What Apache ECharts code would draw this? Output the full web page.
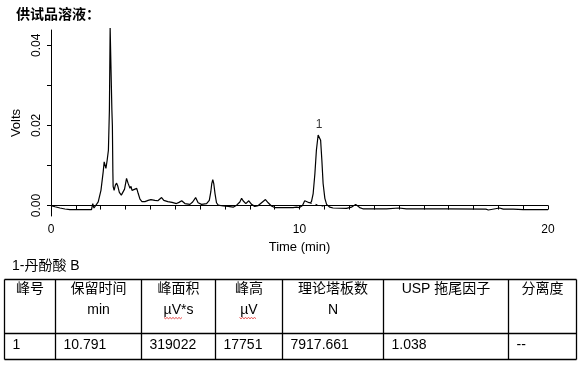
<!DOCTYPE html>
<html><head><meta charset="utf-8">
<script src="https://cdn.jsdelivr.net/npm/echarts@6/dist/echarts.min.js"></script>
<style>html,body{margin:0;padding:0;background:#fff}#c{width:584px;height:372px}</style>
</head><body><div id="c"></div>
<script>
// ---- data ----
const times = [0,0.16,0.36,0.56,0.76,1.63,1.68,1.73,1.81,1.90,2.01,2.10,2.14,2.17,2.21,2.26,2.31,2.35,2.38,2.43,2.45,2.47,2.49,2.50,2.54,2.59,2.64,2.69,2.75,2.83,2.91,2.96,3.04,3.10,3.18,3.22,3.26,3.34,3.45,3.51,3.58,3.66,3.78,3.91,4.02,4.10,4.18,4.30,4.45,4.54,4.70,4.87,5.05,5.15,5.26,5.39,5.59,5.70,5.82,5.92,6.06,6.26,6.37,6.43,6.47,6.51,6.55,6.60,6.66,6.73,6.93,7.13,7.33,7.47,7.60,7.67,7.73,7.84,7.96,8.07,8.20,8.34,8.51,8.63,8.74,8.87,9.0,9.2,9.74,9.88,10.0,10.12,10.21,10.28,10.39,10.48,10.55,10.62,10.68,10.75,10.79,10.85,10.90,10.95,11.02,11.09,11.22,11.35,11.89,12.09,12.26,12.42,12.55,13.5,14.0,14.3,15.9,17.5,17.6,18.05,18.2,18.6,18.65,19.0,19.5,20.0];
const volts = [0,-0.0003,-0.0006,-0.00085,-0.001,-0.001,0.0005,-0.0006,-0.0003,0.0009,0.0038,0.0084,0.0109,0.0106,0.0093,0.0113,0.0138,0.0238,0.0443,0.0443,0.0238,0.0200,0.0083,0.0048,0.0038,0.0051,0.0056,0.0048,0.0033,0.0026,0.0027,0.0041,0.0068,0.0056,0.0043,0.0048,0.0038,0.0036,0.0043,0.0030,0.0016,0.0010,0.0010,0.0013,0.0015,0.0012,0.0013,0.0012,0.0020,0.0013,0.0010,0.0008,0.0005,0.0008,0.0012,0.0005,0.0003,0.0009,0.0020,0.0007,0.0003,0.0005,0.0013,0.0034,0.0055,0.0065,0.0055,0.0030,0.0007,0.0001,-0.0001,-0.0002,-0.0004,0.0001,0.0009,0.0018,0.0012,0.0005,0.0012,0.0003,-0.0002,0.0000,0.0009,0.0015,0.0007,-0.0001,-0.0005,-0.0005,-0.0005,-0.0004,-0.0005,0.0000,0.0012,0.0013,0.0007,0.0009,0.0030,0.0080,0.0138,0.0176,0.0180,0.0163,0.0113,0.0055,0.0018,0.0003,-0.0004,-0.0006,-0.0007,-0.0004,0.0003,-0.0005,-0.0008,-0.0008,-0.0006,-0.0008,-0.0008,-0.0009,-0.0011,-0.0006,-0.0009,-0.0009,-0.0010,-0.0010,-0.0010,-0.0010];
const baselineTimes = [10.41, 11.08];
const baselineVolts = [0.00065, -0.00035];
const peakTimes = [10.791];
const peakVolts = [0.0180];
const peakNames = ['1'];
const xLabelValues = [0, 10, 20];
const yTickValues = [0, 0.01, 0.02, 0.03, 0.04];
const yLabelValues = [0, 0.02, 0.04];
const chartTitle = '供试品溶液：';
const xName = 'Time (min)';
const yName = 'Volts';
const tableTitle = '1-丹酚酸 B';
const headerNames = ['峰号','保留时间','峰面积','峰高','理论塔板数','USP 拖尾因子','分离度'];
const headerUnits = ['','min','µV*s','µV','N','',''];
const rowValues = ['1','10.791','319022','17751','7917.661','1.038','--'];

// ---- layout ----
const FONT = "'Liberation Sans', Arial, 'Noto Sans CJK SC', sans-serif";
const colEdges = [4.5, 55.5, 141.5, 215.5, 282.5, 383.5, 508.5, 576.5];
const rowEdges = [279.5, 333.5, 359.5];

const graphics = [];
graphics.push({type:'text', left: 12, top: 259, style:{text: tableTitle, font: '14px ' + FONT, fill:'#000'}});
rowEdges.forEach(y => graphics.push({type:'line', shape:{x1: colEdges[0], y1: y, x2: colEdges[colEdges.length-1], y2: y}, style:{stroke:'#000', lineWidth:1.3}}));
colEdges.forEach(x => graphics.push({type:'line', shape:{x1: x, y1: rowEdges[0], x2: x, y2: rowEdges[rowEdges.length-1]}, style:{stroke:'#000', lineWidth:1.3}}));
headerNames.forEach((h, i) => {
  const cx = (colEdges[i] + colEdges[i+1]) / 2;
  graphics.push({type:'text', x: cx, y: 289, style:{text: h, font: '14px ' + FONT, fill:'#000', align:'center', verticalAlign:'middle'}});
  if (headerUnits[i]) graphics.push({type:'text', x: cx, y: 310, style:{text: headerUnits[i], font: '14px ' + FONT, fill:'#000', align:'center', verticalAlign:'middle'}});
});
rowValues.forEach((v, i) => {
  graphics.push({type:'text', x: colEdges[i] + 8, y: 345, style:{text: v, font: '14px ' + FONT, fill:'#000', align:'left', verticalAlign:'middle'}});
});
// red spell-check squiggles under µV
function squiggle(x1, x2, y) {
  const pts = [];
  for (let x = x1, k = 0; x <= x2; x += 1.5, k++) pts.push([x, y + (k % 2 ? 1.2 : 0)]);
  return {type:'polyline', shape:{points: pts}, style:{stroke:'#e02020', lineWidth:0.8, fill:null}};
}
graphics.push(squiggle(164, 182, 317.5));
graphics.push(squiggle(239.5, 256.5, 317.5));

const chart = echarts.init(document.getElementById('c'), null, {renderer:'canvas'});
chart.setOption({
  animation: false,
  backgroundColor: '#fff',
  title: {text: chartTitle, left: 11, top: 3, textStyle:{fontSize: 14, fontWeight:'bold', color:'#000', fontFamily: FONT}},
  grid: {left: 51, right: 36, top: 30, bottom: 156},
  xAxis: {
    type: 'value', min: 0, max: 20, interval: 1,
    name: xName, nameLocation: 'middle', nameGap: 25,
    nameTextStyle: {fontSize: 13, color:'#000', fontFamily: FONT},
    axisLine: {show: true, lineStyle:{color:'#000', width:1}},
    axisTick: {show: true, length: 4, lineStyle:{color:'#000'}},
    axisLabel: {color:'#000', fontSize: 12, fontFamily: FONT, margin: 8,
      formatter: v => xLabelValues.indexOf(v) >= 0 ? String(v) : ''},
    splitLine: {show: false}
  },
  yAxis: {
    type: 'value', min: -0.0026, max: 0.0438,
    name: yName, nameLocation: 'middle', nameGap: 24,
    nameTextStyle: {fontSize: 13, color:'#000', fontFamily: FONT},
    axisLine: {show: true, lineStyle:{color:'#000', width:1}},
    axisTick: {show: true, length: 4, customValues: yTickValues, lineStyle:{color:'#000'}},
    axisLabel: {color:'#000', fontSize: 12, fontFamily: FONT, rotate: 90, margin: 8,
      customValues: yLabelValues, formatter: v => v.toFixed(2)},
    splitLine: {show: false}
  },
  graphic: graphics,
  series: [
    {type:'line', data: times.map((t, i) => [t, volts[i]]), showSymbol: false, symbol:'none', clip: false,
     lineStyle:{color:'#000', width: 1.2}},
    {type:'line', data: baselineTimes.map((t, i) => [t, baselineVolts[i]]), showSymbol:false, symbol:'none',
     lineStyle:{color:'#000', width: 1, type:[2,4]}},
    {type:'scatter', data: peakTimes.map((t, i) => ({value:[t, peakVolts[i]], name: peakNames[i]})), symbolSize: 0,
     label:{show:true, position:'top', distance: 3, formatter: p => p.name, fontSize: 12, color:'#000', fontFamily: FONT}}
  ]
});
</script></body></html>
